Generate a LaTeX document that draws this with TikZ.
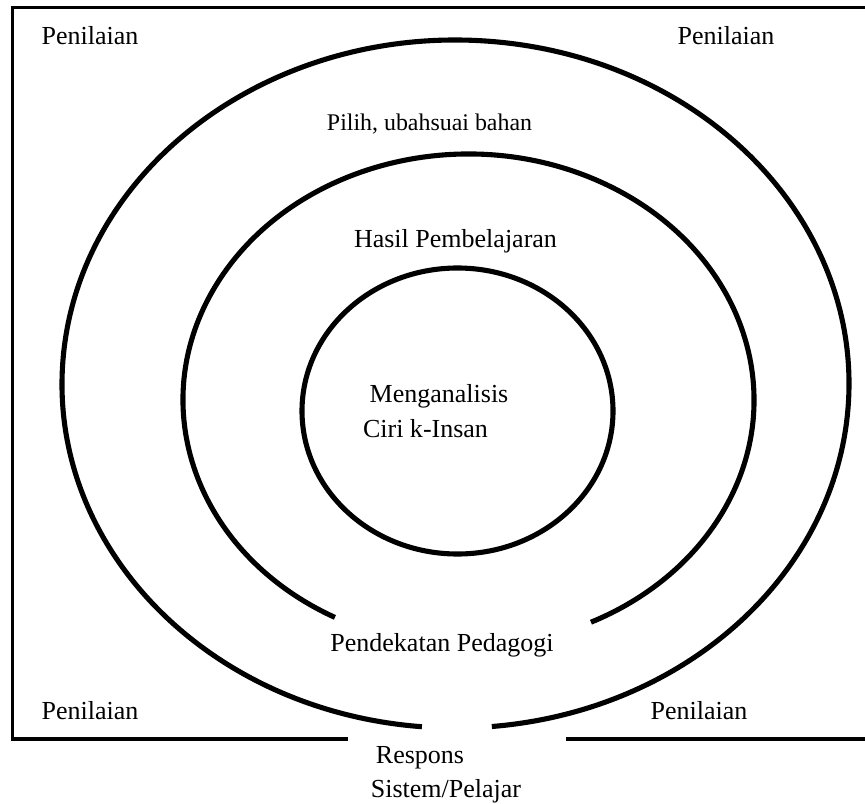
\documentclass[tikz,border=0pt]{standalone}
\usepackage{fontspec}
\setmainfont{Liberation Serif}
\tikzset{
  ring/.style={line width=2.9pt},
  frame/.style={line width=2pt},
  label/.style={font=\fontsize{14.8pt}{17pt}\selectfont, inner sep=0pt}
}
\begin{document}
\begin{tikzpicture}[x=0.02cm, y=-0.02cm]
\useasboundingbox (0,0) rectangle (865,804);
% frame, open at the right and at the bottom
\draw [frame] (865,7.5) -| (12.5,739) -- (348,739);
\draw [frame] (566,739) -- (865,739);
% the three rings
\draw [ring] (455.5,384) ++(94.9:393.5 and 344)
  arc[start angle=94.9, end angle=444.7, x radius=393.5, y radius=344];
\draw [ring] (468.5,400) ++(117.9:285.5 and 246)
  arc[start angle=117.9, end angle=424.6, x radius=285.5, y radius=246];
\draw [ring] (457.5,411) ellipse [x radius=155.5, y radius=143];
% labels
\node [label] (pTL) at (90,36) {Penilaian};
\node [label] (pTR) at (726,36) {Penilaian};
\node [label] (pBL) at (90,711) {Penilaian};
\node [label] (pBR) at (699,711) {Penilaian};
\node [label, font=\fontsize{13.6pt}{16pt}\selectfont] (pilih) at (429.5,124) {Pilih, ubahsuai bahan};
\node [label] (hasil) at (455.5,241) {Hasil Pembelajaran};
\node [label] (analisis) at (439,396) {Menganalisis};
\node [label] (ciri) at (425.5,429) {Ciri k-Insan};
\node [label] (pedagogi) at (442,645) {Pendekatan Pedagogi};
\node [label] (respons) at (420,758) {Respons};
\node [label] (sistem) at (446,791) {Sistem/Pelajar};
\end{tikzpicture}
\end{document}
